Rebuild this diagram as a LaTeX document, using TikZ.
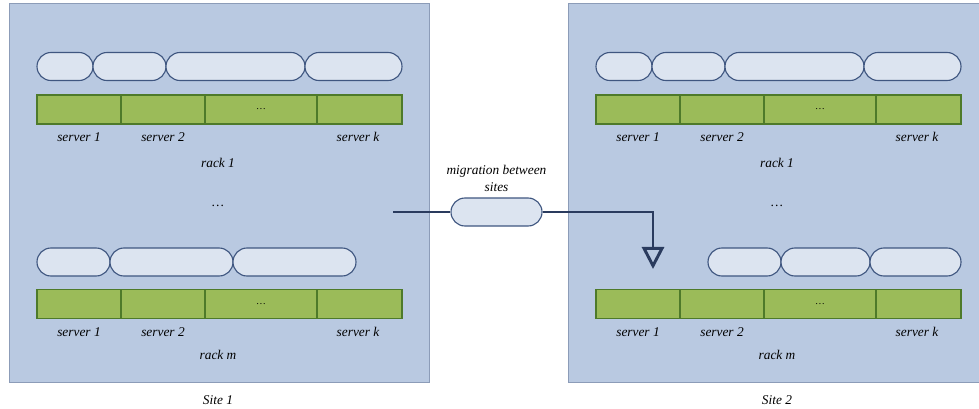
\documentclass[tikz,border=0pt]{standalone}
\usepackage{fontspec}
\setmainfont{Liberation Serif}
\usetikzlibrary{arrows.meta}

\definecolor{sitebg}{HTML}{B9C9E1}
\definecolor{sitebd}{HTML}{8C9CB8}
\definecolor{vmbg}{HTML}{DCE4F0}
\definecolor{vmbd}{HTML}{3F5680}
\definecolor{srvbg}{HTML}{9BBB59}
\definecolor{srvbd}{HTML}{4E7A2A}
\definecolor{flowc}{HTML}{2A3B5E}

\tikzset{
	site/.style={draw=sitebd, fill=sitebg, line width=0.6pt},
	vm/.style={draw=vmbd, fill=vmbg, line width=0.8pt, rounded corners=0.35cm, minimum height=0.7cm, inner sep=0pt},
	srv/.style={draw=srvbd, fill=srvbg, line width=1.1pt, minimum height=0.73cm, inner sep=0pt, font=\scriptsize},
	lbl/.style={font=\fontsize{9.5}{12}\selectfont\itshape, inner sep=0pt},
	flow/.style={draw=flowc, line width=2.1pt},
}

\begin{document}
\begin{tikzpicture}[x=0.025cm, y=-0.025cm]
			\clip (0,0) rectangle (979,408);

			% the two sites
			\draw[site] (9,3) rectangle (429,382);
			\draw[site] (568,3) rectangle (995,382);
			\node[lbl] (site1) at (218,400) {Site 1};
			\node[lbl] (site2) at (777,400) {Site 2};

			% racks, same layout in both sites
			\foreach \s/\dx in {1/0, 2/559} {
				\foreach \a/\b/\n/\t in {37/121/1/{}, 121/205/2/{}, 205/317/3/{\ldots}, 317/402/4/{}} {
					\node[srv, minimum width={(\b-\a)*0.025cm}] (s\s r1\n) at ({(\a+\b)/2+\dx},109.5) {\t};
					\node[srv, minimum width={(\b-\a)*0.025cm}] (s\s rm\n) at ({(\a+\b)/2+\dx},304) {\t};
				}
				\node[lbl] (s\s r1l1) at (79+\dx,137) {server 1};
				\node[lbl] (s\s r1l2) at (163+\dx,137) {server 2};
				\node[lbl] (s\s r1lk) at (358+\dx,137) {server k};
				\node[lbl] (s\s r1) at (218+\dx,163) {rack 1};
				\node[lbl] (s\s dots) at (218+\dx,206) {\ldots};
				\node[lbl] (s\s rml1) at (79+\dx,332) {server 1};
				\node[lbl] (s\s rml2) at (163+\dx,332) {server 2};
				\node[lbl] (s\s rmlk) at (358+\dx,332) {server k};
				\node[lbl] (s\s rm) at (218+\dx,355) {rack m};
				\foreach \a/\b/\n in {37/93/1, 93/166/2, 166/305/3, 305/402/4}
					\node[vm, minimum width={(\b-\a)*0.025cm}] (s\s v1\n) at ({(\a+\b)/2+\dx},66.5) {};
			}

			% virtual machines on rack m
			\foreach \a/\b/\n in {37/110/1, 110/233/2, 233/356/3}
				\node[vm, minimum width={(\b-\a)*0.025cm}] (s1vm\n) at ({(\a+\b)/2},262) {};
			\foreach \a/\b/\n in {708/781/1, 781/870/2, 870/961/3}
				\node[vm, minimum width={(\b-\a)*0.025cm}] (s2vm\n) at ({(\a+\b)/2},262) {};

			% migration
			\node[vm, minimum width=2.275cm] (mig) at (496.5,212) {};
			\node[lbl, align=center, anchor=south] (migtxt) at (496.5,192) {migration between\\sites};
			\coordinate (mfrom) at (393,212);
			\coordinate (mto) at (653,269);
			\draw[flow] (mfrom) -- (mig.west);
			\draw[flow, -{Triangle[open, width=0.55cm, length=0.55cm]}] (mig.east) -| (mto);
		\end{tikzpicture}
\end{document}
